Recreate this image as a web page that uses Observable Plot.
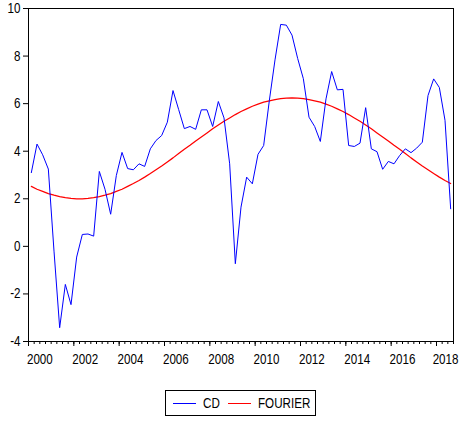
<!DOCTYPE html>
<html>
<head>
<meta charset="utf-8">
<script src="https://cdn.jsdelivr.net/npm/d3@7"></script>
<script src="https://cdn.jsdelivr.net/npm/@observablehq/plot@0.6"></script>
<style>
  html, body { margin: 0; padding: 0; background: #fff; }
  body { width: 461px; height: 422px; overflow: hidden; font-family: "Liberation Sans", Arial, sans-serif; }
  #chart svg { display: block; }
  #legend {
    position: absolute; left: 165px; top: 390px; width: 149px; height: 24px;
    border: 1px solid #000; box-sizing: content-box; font-size: 14px; color: #000;
  }
  #legend .sw { position: absolute; top: 12px; width: 23px; height: 0; border-top: 1px solid; }
  #legend .lab { position: absolute; top: 3px; line-height: 18px; white-space: nowrap;
    transform: scaleX(0.83); transform-origin: 0 50%; }
</style>
</head>
<body>
<div id="chart"></div>
<div id="legend"></div>
<script>
// Quarterly observations, 2000Q1 .. 2018Q3
const firstYear = 2000;
const cd = [
  3.1, 4.3, 3.85, 3.25, -0.2, -3.42, -1.6, -2.45,
  -0.45, 0.5, 0.52, 0.43, 3.15, 2.4, 1.35, 2.98,
  3.95, 3.27, 3.22, 3.47, 3.36, 4.1, 4.45, 4.66,
  5.22, 6.55, 5.75, 4.95, 5.04, 4.92, 5.74, 5.74,
  5.04, 6.09, 5.4, 3.47, -0.73, 1.65, 2.91, 2.63,
  3.87, 4.24, 6.13, 7.84, 9.33, 9.3, 8.88, 7.9,
  7.05, 5.43, 5.04, 4.41, 6.2, 7.35, 6.58, 6.6,
  4.24, 4.2, 4.34, 5.83, 4.1, 3.98, 3.24, 3.57,
  3.47, 3.82, 4.1, 3.94, 4.13, 4.38, 6.34, 7.04,
  6.68, 5.3, 1.58
];
const fourier = [
  2.52, 2.40, 2.31, 2.22, 2.15, 2.09, 2.05, 2.02,
  2.00, 2.00, 2.02, 2.05, 2.09, 2.15, 2.22, 2.31,
  2.40, 2.52, 2.64, 2.77, 2.91, 3.06, 3.22, 3.38,
  3.55, 3.72, 3.90, 4.08, 4.25, 4.43, 4.60, 4.77,
  4.94, 5.10, 5.26, 5.40, 5.54, 5.67, 5.78, 5.89,
  5.98, 6.06, 6.12, 6.17, 6.21, 6.23, 6.24, 6.23,
  6.21, 6.17, 6.12, 6.06, 5.98, 5.89, 5.78, 5.67,
  5.54, 5.40, 5.26, 5.10, 4.94, 4.77, 4.60, 4.43,
  4.25, 4.08, 3.90, 3.72, 3.55, 3.38, 3.22, 3.06,
  2.91, 2.77, 2.64
];
const yearLabels = ["2000","2002","2004","2006","2008","2010","2012","2014","2016","2018"];
const yTicks = [-4, -2, 0, 2, 4, 6, 8, 10];
const seriesNames = ["CD", "FOURIER"];
const seriesColors = ["#0000ff", "#ff0000"];

// observation time = middle of its quarter (year boundaries fall between observations)
const t = i => firstYear + i / 4 + 0.125;
const rows = [];
cd.forEach((v, i) => rows.push({t: t(i), v, s: "CD"}));
fourier.forEach((v, i) => rows.push({t: t(i), v, s: "FOURIER"}));

const nObs = cd.length;
const xEnd = firstYear + nObs / 4;
const quarterBounds = d3.range(0, nObs + 1).map(i => firstYear + i / 4);
const majorTicks = yearLabels.map(y => +y);
// labels centred on their year, nudged in at the right edge
const labelPos = yearLabels.map(y => Math.min(+y + 0.5, xEnd - 0.35));

const font = '"Liberation Sans", Arial, sans-serif';

const chart = Plot.plot({
  width: 461,
  height: 372,
  marginLeft: 28,
  marginRight: 8,
  marginTop: 8,
  marginBottom: 31,
  style: {fontFamily: font, fontSize: "14px", color: "#000", background: "#fff"},
  x: {type: "linear", domain: [firstYear, xEnd]},
  y: {domain: [-4, 10]},
  color: {domain: seriesNames, range: seriesColors},
  marks: [
    Plot.axisY(yTicks, {tickSize: 5, tickPadding: 3, tickFormat: d => String(d), label: null, fontSize: 14}),
    Plot.axisX(quarterBounds, {tickSize: 3, tickFormat: () => "", label: null}),
    Plot.axisX(majorTicks, {tickSize: 5, tickFormat: () => "", label: null}),
    Plot.axisX(labelPos, {tickSize: 0, tickPadding: 13, tickFormat: d => String(Math.floor(d)), label: null, fontSize: 14}),
    Plot.line(rows.filter(d => d.s === "FOURIER"), {x: "t", y: "v", stroke: "s", strokeWidth: 1.25}),
    Plot.line(rows.filter(d => d.s === "CD"), {x: "t", y: "v", stroke: "s", strokeWidth: 1}),
    Plot.frame({stroke: "#000", strokeWidth: 1})
  ]
});
document.getElementById("chart").appendChild(chart);

// narrow the glyphs horizontally around each label's anchor (the reference uses a condensed face)
chart.querySelectorAll("text").forEach(el => {
  if (!el.textContent) return;
  const tr = el.getAttribute("transform");
  if (tr) el.setAttribute("transform", `${tr} scale(0.83,1)`);
});

const legend = document.getElementById("legend");
const swLeft = [7, 62], labLeft = [36.5, 91.5];
seriesNames.forEach((name, i) => {
  const sw = document.createElement("span");
  sw.className = "sw";
  sw.style.borderTopColor = seriesColors[i];
  sw.style.left = swLeft[i] + "px";
  legend.appendChild(sw);
  const lab = document.createElement("span");
  lab.className = "lab";
  lab.style.left = labLeft[i] + "px";
  lab.textContent = name;
  legend.appendChild(lab);
});
</script>
</body>
</html>
